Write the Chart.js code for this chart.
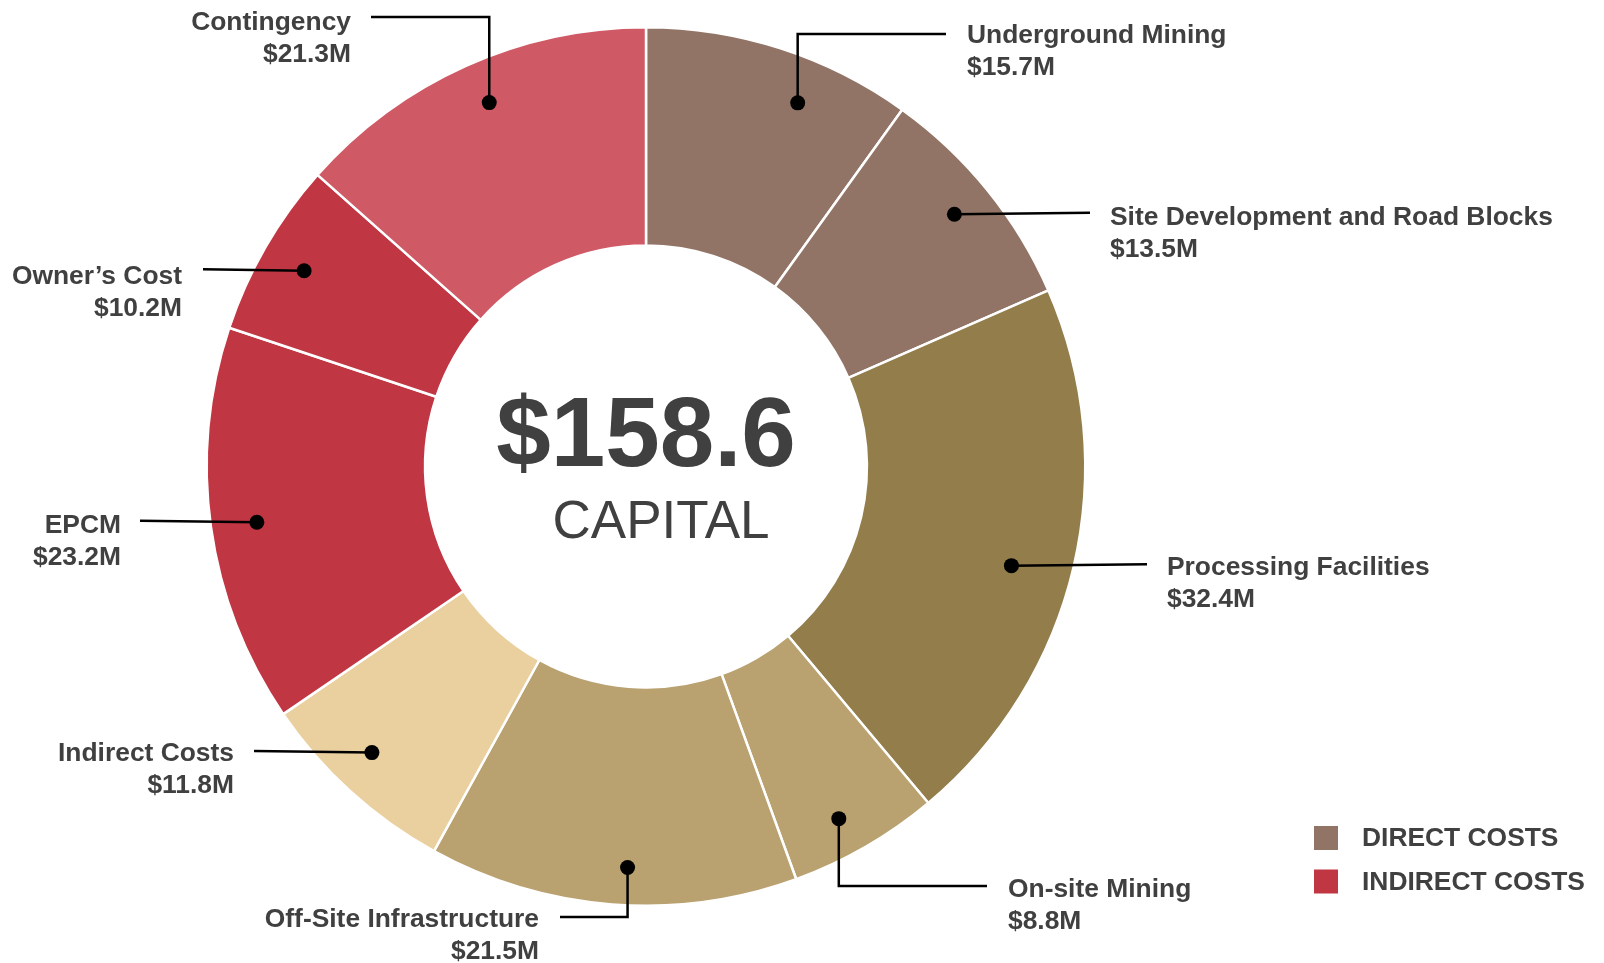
<!DOCTYPE html>
<html>
<head>
<meta charset="utf-8">
<script src="https://cdn.jsdelivr.net/npm/chart.js@4"></script>
<style>
  html, body { margin: 0; padding: 0; background: #ffffff; }
  #wrap { width: 1604px; height: 963px; position: relative; }
  canvas { display: block; }
</style>
</head>
<body>
<div id="wrap"><canvas id="c" width="1604" height="963"></canvas></div>
<script>
// ---- Data ----
const categories = [
  "Underground Mining",
  "Site Development and Road Blocks",
  "Processing Facilities",
  "On-site Mining",
  "Off-Site Infrastructure",
  "Indirect Costs",
  "EPCM",
  "Owner\u2019s Cost",
  "Contingency"
];
const values = [15.7, 13.5, 32.4, 8.8, 21.5, 11.8, 23.2, 10.2, 21.3];
const sliceColors = ["#927466", "#927466", "#927d4b", "#b9a170", "#b9a170", "#ead09e", "#c13643", "#c13643", "#cf5a66"];
const totalCapital = "$158.6";
const centerSubtitle = "CAPITAL";
const legendLabels = ["DIRECT COSTS", "INDIRECT COSTS"];
const legendColors = ["#927466", "#c13643"];

// ---- Label layout (annotation placement, canvas pixels) ----
// side: 'r' text to the right, 'l' text right-aligned to the left
// elbowY: if set, leader goes vertical from dot to elbowY, then horizontal
// angleShift (deg) / rf (fraction of outer radius): where the dot sits in its slice
const labelLayout = [
  { side: 'r', elbowY: 34,  endX: 946,  textX: 967,  y1: 35.5, angleShift: 4.8,  rf: 0.897 },
  { side: 'r', elbowY: null, endX: 1090, textX: 1110, y1: 217.5, angleShift: -0.3, rf: 0.907 },
  { side: 'r', elbowY: null, endX: 1147, textX: 1167, y1: 568, angleShift: 2.0,  rf: 0.862 },
  { side: 'r', elbowY: 886, endX: 987,  textX: 1008, y1: 890, angleShift: 1.3,  rf: 0.914 },
  { side: 'l', elbowY: 917, endX: 560,  textX: 539,  y1: 920, angleShift: -1.8, rf: 0.914 },
  { side: 'l', elbowY: null, endX: 254, textX: 234,  y1: 754, angleShift: 1.5,  rf: 0.902 },
  { side: 'l', elbowY: null, endX: 140, textX: 121,  y1: 526, angleShift: -0.2, rf: 0.895 },
  { side: 'l', elbowY: null, endX: 203, textX: 182,  y1: 276.5, angleShift: -0.2, rf: 0.897 },
  { side: 'l', elbowY: 17,  endX: 371,  textX: 351,  y1: 22.5, angleShift: 0.9,  rf: 0.902 }
];
const lineGap = 32;
const textColor = "#404040";
const labelFont = "bold 26.4px 'Liberation Sans', Arial, sans-serif";

const annotationPlugin = {
  id: 'annotations',
  afterDraw(chart) {
    const ctx = chart.ctx;
    const meta = chart.getDatasetMeta(0);
    ctx.save();
    meta.data.forEach((arc, i) => {
      const L = labelLayout[i];
      const mid = (arc.startAngle + arc.endAngle) / 2 + L.angleShift * Math.PI / 180;
      const r = arc.outerRadius * L.rf;
      const dx = arc.x + Math.cos(mid) * r;
      const dy = arc.y + Math.sin(mid) * r;
      ctx.strokeStyle = "#000";
      ctx.lineWidth = 2.5;
      ctx.beginPath();
      ctx.moveTo(dx, dy);
      if (L.elbowY !== null) {
        ctx.lineTo(dx, L.elbowY);
        ctx.lineTo(L.endX, L.elbowY);
      } else {
        ctx.lineTo(L.endX, dy - 1.5);
      }
      ctx.stroke();
      ctx.fillStyle = "#000";
      ctx.beginPath();
      ctx.arc(dx, dy, 7.5, 0, Math.PI * 2);
      ctx.fill();
      ctx.fillStyle = textColor;
      ctx.font = labelFont;
      ctx.textBaseline = 'middle';
      ctx.textAlign = L.side === 'r' ? 'left' : 'right';
      ctx.fillText(categories[i], L.textX, L.y1);
      ctx.fillText("$" + values[i].toFixed(1) + "M", L.textX, L.y1 + lineGap);
    });
    // center text
    const cx = meta.data[0].x, cy = meta.data[0].y;
    ctx.textAlign = 'center';
    ctx.textBaseline = 'alphabetic';
    ctx.fillStyle = textColor;
    ctx.font = "bold 98px 'Liberation Sans', Arial, sans-serif";
    ctx.fillText(totalCapital, cx, cy - 1);
    ctx.font = "53px 'Liberation Sans', Arial, sans-serif";
    ctx.fillText(centerSubtitle, cx + 15, cy + 71);
    // legend
    ctx.textAlign = 'left';
    ctx.textBaseline = 'middle';
    ctx.font = labelFont;
    legendLabels.forEach((t, k) => {
      const y = 838 + k * 43.5;
      ctx.fillStyle = legendColors[k];
      ctx.fillRect(1314, y - 12, 24, 24);
      ctx.fillStyle = textColor;
      ctx.fillText(t, 1362, y + 1);
    });
    ctx.restore();
  }
};

new Chart(document.getElementById('c'), {
  type: 'doughnut',
  data: {
    labels: categories,
    datasets: [{
      data: values,
      backgroundColor: sliceColors,
      borderColor: "#ffffff",
      borderWidth: 2.5
    }]
  },
  options: {
    responsive: false,
    animation: false,
    cutout: '50.3%',
    layout: { padding: { left: 205, right: 517, top: 26, bottom: 56 } },
    plugins: { legend: { display: false }, tooltip: { enabled: false } }
  },
  plugins: [annotationPlugin]
});
</script>
</body>
</html>
